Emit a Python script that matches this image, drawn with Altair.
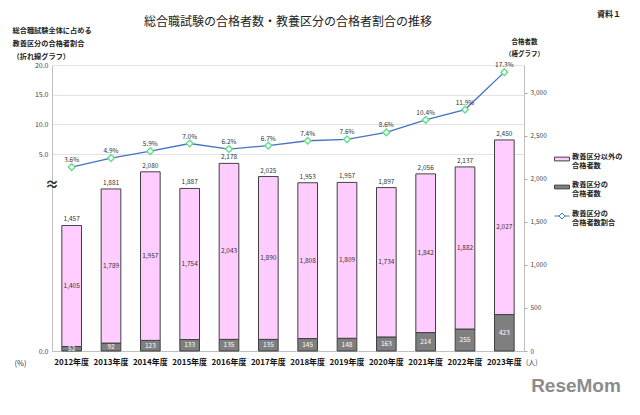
import altair as alt
import pandas as pd

FONT = "Noto Sans CJK JP"

years = ["2012年度", "2013年度", "2014年度", "2015年度", "2016年度", "2017年度",
         "2018年度", "2019年度", "2020年度", "2021年度", "2022年度", "2023年度"]
totals = [1457, 1881, 2080, 1887, 2178, 2025, 1953, 1957, 1897, 2056, 2137, 2450]
others = [1405, 1789, 1957, 1754, 2043, 1890, 1808, 1809, 1734, 1842, 1882, 2027]
kyoyo = [52, 92, 123, 133, 135, 135, 145, 148, 163, 214, 255, 423]
pct = [3.6, 4.9, 5.9, 7.0, 6.2, 6.7, 7.4, 7.6, 8.6, 10.4, 11.9, 17.3]

S_OTHER = "教養区分以外の|合格者数"
S_KYO = "教養区分の|合格者数"
S_LINE = "教養区分の|合格者数割合"

bars_df = pd.DataFrame({
    "year": years + years,
    "series": [S_KYO] * len(years) + [S_OTHER] * len(years),
    "value": kyoyo + others,
    "ord": [0] * len(years) + [1] * len(years),
})
tot_df = pd.DataFrame({"year": years, "total": totals})
line_df = pd.DataFrame({"year": years, "pct": pct, "series": [S_LINE] * len(years)})
break_df = pd.DataFrame({"pos": [-0.23]})

x_enc = alt.X(
    "year:N", sort=years,
    scale=alt.Scale(paddingInner=0.5, paddingOuter=0.25),
    axis=alt.Axis(title="(%)", titleX=-32, titleY=12, titleBaseline="middle", titleAlign="center",
                  titleFontSize=7.5, titleFontWeight="normal", titleColor="#333",
                  labelAngle=0, ticks=False, domainColor="#bfbfbf", labelFontSize=8,
                  labelFontWeight="bold", labelColor="#111", labelPadding=7),
)

y_bar_scale = alt.Scale(domain=[0, 3320], nice=False, zero=True)
right_axis = alt.Axis(
    orient="right", values=[0, 500, 1000, 1500, 2000, 2500, 3000],
    grid=False, tickSize=3, tickColor="#aaaaaa", domainColor="#bfbfbf",
    labelFontSize=6.5, labelColor="#444", labelPadding=3,
    labelExpr="format(datum.value, ',')", labelOverlap=False, labelFlush=False, labelBound=False,
    title=["合格者数", "（棒グラフ）"], titleAngle=0, titleAlign="center", titleBaseline="top",
    titleX=0, titleY=-27, titleFontSize=6.5, titleFontWeight="bold", titleLineHeight=12,
    titleColor="#222",
)

y_left_scale = alt.Scale(domain=[-28.2, 20], nice=False, zero=False)
left_axis = alt.Axis(
    orient="left", values=[-28.2, 5, 10, 15, 20],
    labelExpr="datum.value < 0 ? '0.0' : format(datum.value, '.1f')",
    grid=True, gridColor="#e3e3e3", ticks=False, domainColor="#bfbfbf",
    labelFontSize=7, labelColor="#444", labelPadding=4, labelOverlap=False,
    title=["総合職試験全体に占める", "教養区分の合格者割合", "（折れ線グラフ）"],
    titleAngle=0, titleAlign="left", titleBaseline="top", titleX=-40, titleY=-39,
    titleFontSize=7.2, titleFontWeight="bold", titleLineHeight=13, titleColor="#222",
)

y_line_scale = alt.Scale(domain=[-22.94, 18.33], nice=False, zero=False)

bar_legend = alt.Legend(
    title=None, orient="none", legendX=502, legendY=86,
    symbolType="M-1,-0.25H1V0.25H-1Z", symbolSize=225,
    symbolStrokeColor="#404040", symbolStrokeWidth=1,
    labelExpr="split(datum.label, '|')", labelFontSize=7.2, labelFontWeight="bold",
    labelColor="#222", labelOffset=2, labelBaseline="alphabetic", rowPadding=9, labelLimit=200,
)
line_legend = alt.Legend(
    title=None, orient="none", legendX=502, legendY=143,
    symbolType="M-1,0H-0.4M0.4,0H1M0,-0.4L0.4,0L0,0.4L-0.4,0Z", symbolSize=225,
    symbolStrokeWidth=1, symbolFillColor="white",
    labelExpr="split(datum.label, '|')", labelFontSize=7.2, labelFontWeight="bold",
    labelColor="#222", labelOffset=2, labelBaseline="alphabetic", labelLimit=200,
)

# left axis layer with axis break marker
axis_layer = alt.Chart(break_df).mark_text(text="≈", fontSize=14, fontWeight="bold", color="#333").encode(
    x=alt.value(0),
    y=alt.Y("pos:Q", scale=y_left_scale, axis=left_axis),
)

bars = alt.Chart(bars_df).mark_bar(stroke="#404040", strokeWidth=1).encode(
    x=x_enc,
    y=alt.Y("value:Q", stack="zero", scale=y_bar_scale, axis=right_axis),
    color=alt.Color("series:N", scale=alt.Scale(domain=[S_OTHER, S_KYO], range=["#ffccff", "#7f7f7f"]),
                    legend=bar_legend),
    order=alt.Order("ord:Q", sort="ascending"),
)
seg = alt.Chart(bars_df).transform_stack(
    stack="value", groupby=["year"], as_=["y0", "y1"],
    sort=[alt.SortField(field="ord", order="ascending")],
).transform_calculate(mid="(datum.y0 + datum.y1) / 2")
other_txt = seg.transform_filter(alt.datum.ord == 1).mark_text(fontSize=6.5, color="#333").encode(
    x=x_enc, y=alt.Y("mid:Q", scale=y_bar_scale, axis=right_axis),
    text=alt.Text("value:Q", format=","),
)
kyo_txt = seg.transform_filter(alt.datum.ord == 0).mark_text(fontSize=6.5, color="white").encode(
    x=x_enc, y=alt.Y("mid:Q", scale=y_bar_scale, axis=right_axis),
    text=alt.Text("value:Q", format=","),
)
tot_txt = alt.Chart(tot_df).mark_text(fontSize=6.5, color="#333", baseline="bottom", dy=-3).encode(
    x=x_enc, y=alt.Y("total:Q", scale=y_bar_scale, axis=right_axis),
    text=alt.Text("total:Q", format=","),
)
bar_layer = alt.layer(bars, other_txt, kyo_txt, tot_txt)

line_base = alt.Chart(line_df).encode(
    x=x_enc, y=alt.Y("pct:Q", scale=y_line_scale, axis=None),
)
line = line_base.mark_line(strokeWidth=1.3).encode(
    color=alt.Color("series:N", scale=alt.Scale(domain=[S_LINE], range=["#4472C4"]), legend=line_legend),
)
pts = line_base.mark_point(shape="diamond", size=45, filled=True, fill="white",
                           stroke="#66dd88", strokeWidth=1.4, opacity=1)
pct_txt = line_base.transform_calculate(
    lab="format(datum.pct, '.1f') + '%'"
).mark_text(fontSize=6.5, color="#333", baseline="bottom", dy=-4).encode(text="lab:N")
line_layer = alt.layer(line, pts, pct_txt)

doc_df = pd.DataFrame({"t": ["資料１"]})
doc_txt = alt.Chart(doc_df).mark_text(fontSize=8, fontWeight="bold", color="#222", align="center").encode(
    x=alt.value(557), y=alt.value(-50), text="t:N")
unit_df = pd.DataFrame({"t": ["(人)"]})
unit_txt = alt.Chart(unit_df).mark_text(fontSize=7, color="#444", align="left").encode(
    x=alt.value(474), y=alt.value(298), text="t:N")
wm_df = pd.DataFrame({"t": ["ReseMom"]})
wm_txt = alt.Chart(wm_df).mark_text(fontSize=19, fontWeight="bold", color="#8c8c8c", align="center",
                                    font="Liberation Sans").encode(
    x=alt.value(524), y=alt.value(321), text="t:N")

chart = alt.layer(axis_layer, bar_layer, line_layer, doc_txt, unit_txt, wm_txt).resolve_scale(
    y="independent", color="independent"
).properties(
    width=472, height=286,
    autosize=alt.AutoSizeParams(type="none"),
    padding={"left": 44, "top": 57, "right": 108, "bottom": 56},
    title=alt.TitleParams("総合職試験の合格者数・教養区分の合格者割合の推移", fontSize=12,
                          fontWeight="normal", color="#222", anchor="middle", offset=4, dy=22),
).configure_view(stroke=None).configure_axis(
    labelFont=FONT, titleFont=FONT
).configure_legend(labelFont=FONT).configure_title(font=FONT).configure_text(font=FONT)

chart.save("out.html", embed_options={"renderer": "svg", "actions": False})
